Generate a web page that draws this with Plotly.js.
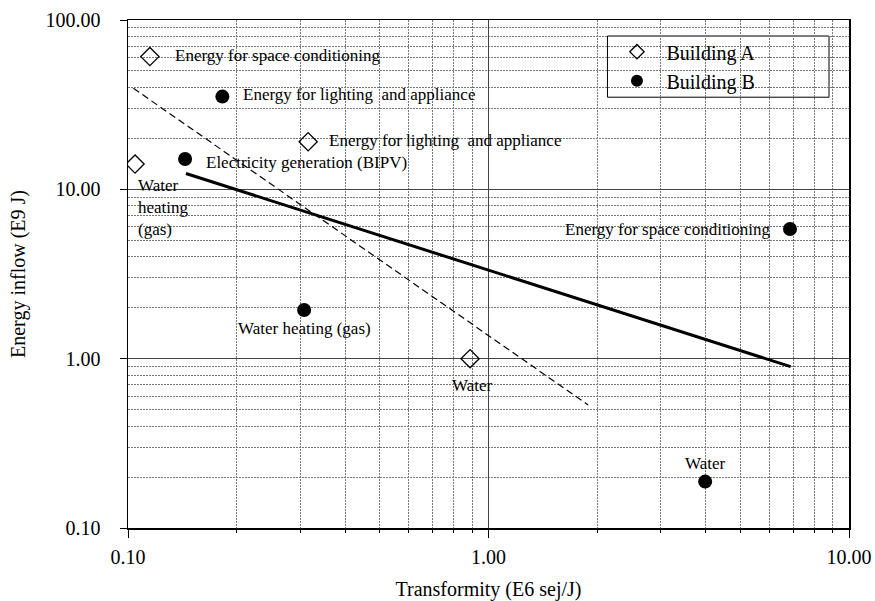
<!DOCTYPE html>
<html>
<head>
<meta charset="utf-8">
<script src="https://cdn.plot.ly/plotly-3.0.1.min.js"></script>
<style>html,body{margin:0;padding:0;background:#fff;}#chart{width:875px;height:601px;}</style>
</head>
<body>
<div id="chart"></div>
<script>
// Building A (open diamonds)
const buildingA_labels = ["Energy for space conditioning", "Energy for lighting  and appliance", "Water<br>heating<br>(gas)", "Water"];
const buildingA_x = [0.115, 0.316, 0.1046, 0.889];
const buildingA_y = [60.8, 19.1, 14.1, 1.0];

// Building B (filled circles)
const buildingB_labels = ["Energy for lighting  and appliance", "Electricity generation (BIPV)", "Water heating (gas)", "Energy for space conditioning", "Water"];
const buildingB_x = [0.1827, 0.144, 0.308, 6.86, 3.99];
const buildingB_y = [35.3, 15.1, 1.94, 5.83, 0.188];

// Trend lines
const trendSolid_x = [0.1448, 6.89];
const trendSolid_y = [12.4, 0.897];
const trendDashed_x = [0.1035, 1.89];
const trendDashed_y = [39.5, 0.533];

// Tick labels
const xTickVals = [0.1, 1, 10];
const xTickText = ["0.10", "1.00", "10.00"];
const yTickVals = [0.1, 1, 10, 100];
const yTickText = ["0.10", "1.00", "10.00", "100.00"];

const FONT = 'Liberation Serif, Times New Roman, Times, serif';

// label placement (anchor + pixel offset from the point)
const placeA = [
  {xanchor:'left', yanchor:'middle', xshift:23, yshift:1},
  {xanchor:'left', yanchor:'middle', xshift:19, yshift:1},
  {xanchor:'left', yanchor:'top', xshift:1, yshift:-10},
  {xanchor:'center', yanchor:'middle', xshift:2, yshift:-27}
];
const placeB = [
  {xanchor:'left', yanchor:'middle', xshift:19, yshift:2},
  {xanchor:'left', yanchor:'middle', xshift:19, yshift:-3},
  {xanchor:'center', yanchor:'middle', xshift:0, yshift:-19},
  {xanchor:'right', yanchor:'middle', xshift:-17, yshift:0},
  {xanchor:'center', yanchor:'middle', xshift:0, yshift:18}
];

const annotations = [];
function addLabels(xs, ys, labels, place) {
  for (let i = 0; i < xs.length; i++) {
    annotations.push(Object.assign({
      x: Math.log10(xs[i]), y: Math.log10(ys[i]), xref: 'x', yref: 'y',
      text: labels[i], showarrow: false, align: 'left',
      font: {family: FONT, size: 17, color: '#000'}
    }, place[i]));
  }
}
addLabels(buildingA_x, buildingA_y, buildingA_labels, placeA);
addLabels(buildingB_x, buildingB_y, buildingB_labels, placeB);

const traces = [
  {x: trendDashed_x, y: trendDashed_y, mode: 'lines', showlegend: false,
   line: {color: '#000', width: 1.2, dash: '7px,4px'}, hoverinfo: 'skip'},
  {x: trendSolid_x, y: trendSolid_y, mode: 'lines', showlegend: false,
   line: {color: '#000', width: 3}, hoverinfo: 'skip'},
  {x: buildingA_x, y: buildingA_y, mode: 'markers', name: 'Building A', showlegend: false,
   marker: {symbol: 'diamond-open', size: 14, color: '#000', line: {width: 1.3, color: '#000'}}},
  {x: buildingB_x, y: buildingB_y, mode: 'markers', name: 'Building B', showlegend: false,
   marker: {symbol: 'circle', size: 14, color: '#000'}},
  // legend entries (smaller symbols, as in the reference legend)
  {x: [null], y: [null], mode: 'markers', name: 'Building A', legendgroup: 'a',
   marker: {symbol: 'diamond-open', size: 11, color: '#000', line: {width: 1.3, color: '#000'}}},
  {x: [null], y: [null], mode: 'markers', name: 'Building B', legendgroup: 'b',
   marker: {symbol: 'circle', size: 12, color: '#000'}}
];

const gridMinor = {showgrid: true, gridcolor: '#777', gridwidth: 1, griddash: '2px,1px',
  ticks: 'outside', ticklen: 3, tickcolor: '#000', dtick: 'D1'};

const layout = {
  width: 875, height: 601,
  margin: {l: 128, r: 26, t: 20, b: 73},
  paper_bgcolor: '#fff', plot_bgcolor: '#fff',
  font: {family: FONT, color: '#000', size: 20},
  showlegend: true,
  legend: {
    x: 0.665, y: 0.976, xanchor: 'left', yanchor: 'top',
    bgcolor: 'rgba(0,0,0,0)', borderwidth: 0,
    font: {family: FONT, size: 20, color: '#000'},
    itemwidth: 49, tracegroupgap: 0
  },
  shapes: [{
    type: 'rect', xref: 'paper', yref: 'paper', layer: 'between',
    x0: 0.665, x1: 0.9723, y0: 0.848, y1: 0.9685,
    fillcolor: '#fff', line: {color: '#000', width: 1}
  }],
  xaxis: {
    type: 'log', range: [-1, 1], tickvals: xTickVals, ticktext: xTickText,
    showline: true, linecolor: '#000', linewidth: 1.5, mirror: true,
    ticks: 'outside', ticklen: 8, tickcolor: '#000', tickwidth: 1,
    showgrid: true, gridcolor: '#444', gridwidth: 1,
    zeroline: false, minor: gridMinor,
    tickfont: {family: FONT, size: 20},
    ticklabelstandoff: 2,
    title: {text: 'Transformity (E6 sej/J)', font: {family: FONT, size: 20}, standoff: 18}
  },
  yaxis: {
    type: 'log', range: [-1, 2], tickvals: yTickVals, ticktext: yTickText,
    showline: true, linecolor: '#000', linewidth: 1.5, mirror: true,
    ticks: 'outside', ticklen: 7, tickcolor: '#000', tickwidth: 1,
    showgrid: true, gridcolor: '#444', gridwidth: 1,
    zeroline: false, minor: Object.assign({}, gridMinor, {ticks: ''}),
    tickfont: {family: FONT, size: 20},
    ticklabelstandoff: 15,
    title: {text: 'Energy inflow (E9 J)', font: {family: FONT, size: 20}, standoff: 14}
  },
  annotations: annotations
};

Plotly.newPlot('chart', traces, layout, {displayModeBar: false, staticPlot: true});
</script>
</body>
</html>
